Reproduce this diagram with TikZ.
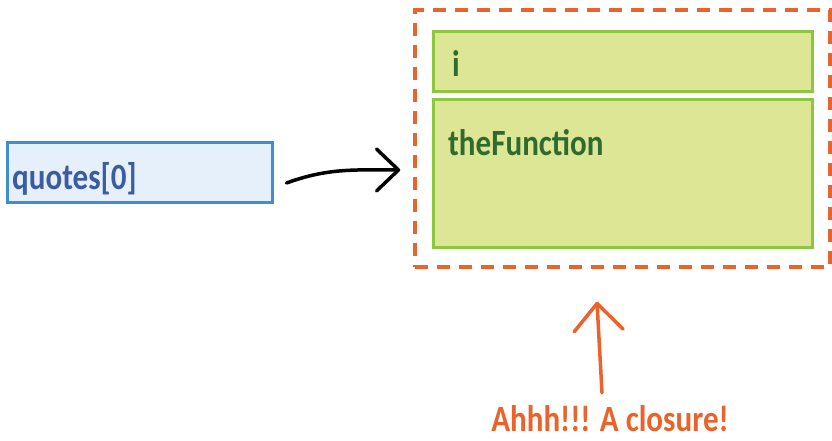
\documentclass[tikz,border=0pt]{standalone}
\usepackage{fontspec}
\setmainfont{Carlito}[FakeStretch=0.84]
\usetikzlibrary{arrows.meta}
\definecolor{refblue}{HTML}{3D8FD1}
\definecolor{refbluefill}{HTML}{E6F0FA}
\definecolor{refbluetext}{HTML}{3B5BA5}
\definecolor{refgreen}{HTML}{8DC63F}
\definecolor{refgreenfill}{HTML}{DCE695}
\definecolor{refgreentext}{HTML}{2F6B2F}
\definecolor{reforange}{HTML}{E9632B}
\begin{document}
\begin{tikzpicture}[x=1pt,y=1pt,
  lbl/.style={font=\bfseries\fontsize{37}{44}\selectfont,inner sep=0pt},
  varbox/.style={draw=refblue,fill=refbluefill,line width=3pt,minimum width=265pt,minimum height=60pt},
  slotbox/.style={draw=refgreen,fill=refgreenfill,line width=3pt,minimum width=379pt},
  closurebox/.style={draw=reforange,line width=3.5pt,dash pattern=on 13pt off 9pt,minimum width=415pt,minimum height=257pt}]
\useasboundingbox (0,0) rectangle (832,441);
% left variable
\node[varbox] (quotes) at (139.5,268) {};
\node[lbl,text=refbluetext,anchor=base west] (quotestxt) at (12,251) {quotes[0]};
% closure with its two slots
\node[closurebox] (closure) at (622.5,302.5) {};
\node[slotbox,minimum height=60pt] (slot) at (622.5,379) {};
\node[slotbox,minimum height=148pt] (fnbox) at (622.5,267) {};
\node[lbl,text=refgreentext,anchor=base west] (slottxt) at (452,364) {i};
\node[lbl,text=refgreentext,anchor=base west] (fntxt) at (448,285) {theFunction};
% caption
\node[lbl,text=reforange,anchor=base] (caption) at (610,9) {Ahhh!!! A closure!};
% arrows
\draw[line width=3.5pt,line cap=round,-{Straight Barb[length=22pt,width=42pt,round]}]
  ([xshift=13pt,yshift=-10pt]quotes.east) to[out=20,in=180] ([xshift=-13pt,yshift=-31.5pt]closure.west);
\draw[reforange,line width=3.5pt,line cap=round,-{Straight Barb[length=27pt,width=49pt,round]}]
  ([xshift=-8pt,yshift=13pt]caption.north) -- ([xshift=-25.5pt,yshift=-33pt]closure.south);
\end{tikzpicture}
\end{document}
